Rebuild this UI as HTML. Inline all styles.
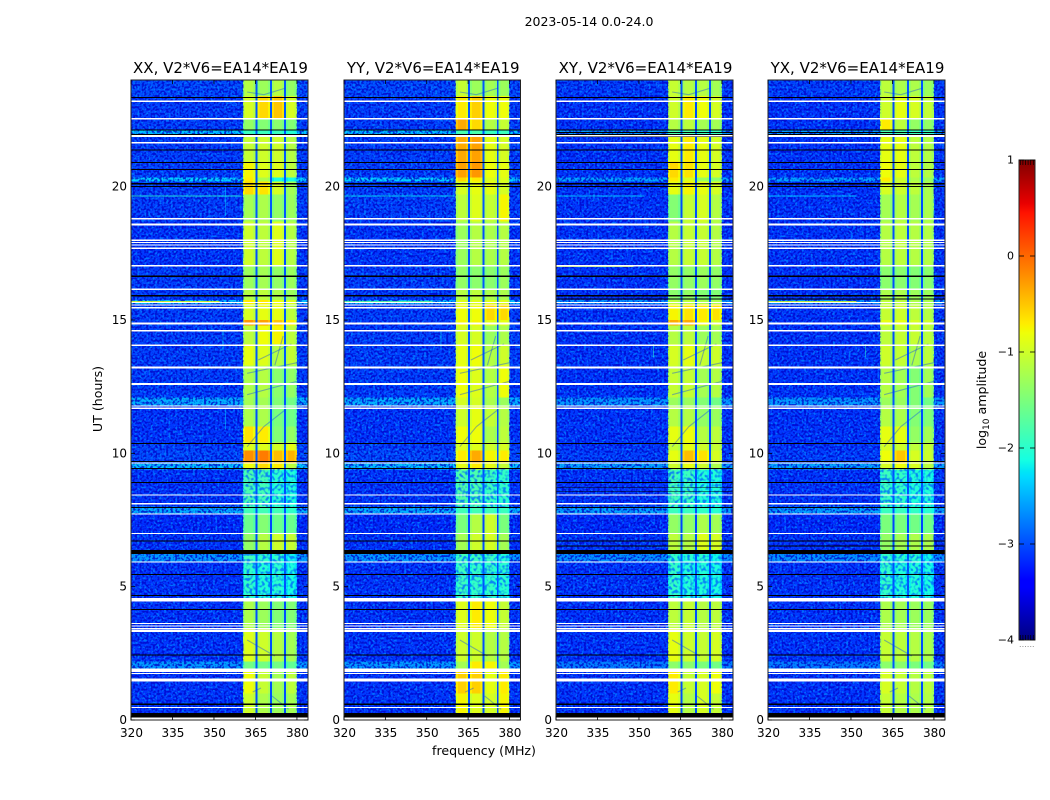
<!DOCTYPE html>
<html lang="en">
<head>
<meta charset="utf-8">
<title>2023-05-14 0.0-24.0</title>
<style>
html,body{margin:0;padding:0;background:#fff;width:1050px;height:800px;overflow:hidden}
svg{display:block}
text{font-family:"DejaVu Sans","Liberation Sans",sans-serif;fill:#000}
</style>
</head>
<body>
<svg id="chart" xmlns="http://www.w3.org/2000/svg" width="1050" height="800" viewBox="0 0 1050 800">
<defs>
<filter id="speckle-light" x="0" y="0" width="1" height="1" color-interpolation-filters="sRGB">
<feTurbulence type="fractalNoise" baseFrequency="0.45" numOctaves="1" seed="4"/>
<feColorMatrix type="matrix" values="0 0 0 0 0  0 0 0 0 0.5  0 0 0 0 1  8 0 0 0 -4.2"/>
</filter>
<filter id="speckle-dark" x="0" y="0" width="1" height="1" color-interpolation-filters="sRGB">
<feTurbulence type="fractalNoise" baseFrequency="0.45" numOctaves="1" seed="11"/>
<feColorMatrix type="matrix" values="0 0 0 0 0  0 0 0 0 0  0 0 0 0 0.78  7 0 0 0 -3.3"/>
</filter>
<filter id="speckle-noisy" x="0" y="0" width="1" height="1" color-interpolation-filters="sRGB">
<feTurbulence type="fractalNoise" baseFrequency="0.32" numOctaves="1" seed="21"/>
<feColorMatrix type="matrix" values="0 0 0 0 0  0 0 0 0 0.42  0 0 0 0 1  5 0 0 0 -2.3"/>
</filter>
<linearGradient id="colorbar-gradient" x1="0" y1="1" x2="0" y2="0"></linearGradient>
</defs>
<text x="589" y="26" font-size="12.5" text-anchor="middle">2023-05-14 0.0-24.0</text>
<text x="484" y="755" font-size="12.6" text-anchor="middle">frequency (MHz)</text>
<text transform="translate(102 399) rotate(-90)" font-size="12.6" text-anchor="middle">UT (hours)</text>
<text transform="translate(986 400) rotate(-90)" font-size="12.6" text-anchor="middle">log<tspan font-size="9" dy="3">10</tspan><tspan dy="-3"> amplitude</tspan></text>
</svg>
<script>
/* ---- data: time bands, frequency windows, log10 amplitudes ---- */
const panelNames = ["XX", "YY", "XY", "YX"];
const baselineLabel = "V2*V6=EA14*EA19";
const freqTicks = [320, 335, 350, 365, 380];
const hourTicks = [0, 5, 10, 15, 20];
const colorTicks = [1, 0, -1, -2, -3, -4];
/* band edges in hours, top to bottom */
const bandEdges = [24,23.4,22.55,22.1,21.9,20.95,20.35,20.2,19.7,18.7,17,16.15,15.75,15.6,15,14.8,14.1,13.3,12.1,11.8,11,10.4,10.1,9.65,9.4,8,7.75,7,6.3,5.95,4.5,3.4,2.2,1.9,1,0.3,0];
/* frequency edges in MHz: background, 4 windows (edge, centre, edge) with gaps, background */
const freqEdges = [320,360.5,361.3,364.2,365,365.7,366.5,369.5,370.3,370.9,371.7,374.6,375.4,376,376.8,379.2,380,384];
/* which level each frequency column uses: 0 = background, 1-4 = window, 5 = gap */
const columnLevel = [0,1,1,1,5,2,2,2,5,3,3,3,5,4,4,4,0];
/* 1 marks the roll-off columns at the edge of a window */
const columnEdge = [0,1,0,1,0,1,0,1,0,1,0,1,0,1,0,1,0];
const edgeDrop = 0.14;
const gapLevel = -2.95;
/* each row: background, window 1, window 2, window 3, window 4 */
const valuesXX = [
[-3.0,-1.15,-1.3,-1.15,-1.35],[-3.05,-0.95,-0.6,-0.5,-0.95],[-3.05,-1.35,-1.45,-1.4,-1.45],[-2.4,-1.9,-1.9,-1.9,-2.0],
[-3.05,-1.05,-1.0,-1.0,-1.15],[-3.05,-0.75,-0.9,-0.9,-1.1],[-2.35,-0.7,-1.2,-2.1,-2.1],[-3.05,-0.6,-0.65,-0.95,-1.25],
[-3.05,-1.25,-1.2,-1.35,-1.3],[-3.1,-1.0,-1.1,-0.9,-1.15],[-3.05,-1.3,-1.25,-1.35,-1.3],[-3.05,-1.15,-1.1,-1.2,-1.3],
[-2.45,-0.7,-0.7,-0.8,-0.9],[-3.05,-0.95,-0.85,-0.85,-1.1],[-3.05,-0.25,-0.3,-0.5,-0.7],[-3.05,-1.1,-0.8,-0.75,-1.1],
[-3.05,-0.85,-0.9,-1.15,-1.05],[-3.05,-1.2,-1.15,-1.4,-1.35],[-2.5,-1.25,-1.25,-1.45,-1.55],[-3.1,-1.2,-1.2,-1.5,-1.55],
[-3.1,-0.65,-0.7,-1.45,-1.35],[-3.05,-0.9,-0.9,-0.95,-0.85],[-3.0,-0.2,-0.1,-0.45,-0.4],[-2.4,-0.8,-0.6,-0.7,-1.1],
[-3.1,-1.8,-1.85,-2,-2.05],[-2.5,-1.85,-1.85,-1.85,-1.95],[-3.15,-1.6,-1.45,-1.6,-1.6],[-3.1,-1.35,-1.15,-1.0,-1.05],
[-2.6,-1.85,-1.95,-1.95,-2.15],[-3.1,-1.95,-2.05,-2,-2.1],[-3.1,-1.2,-1.3,-1.45,-1.45],[-3.1,-0.9,-1.0,-1.15,-1.25],
[-2.6,-1.55,-1.55,-1.55,-1.65],[-3.1,-0.8,-1.05,-1.25,-1.1],[-3.1,-1.0,-1.2,-1.3,-1.25],[-3.1,-0.95,-1.15,-1.25,-1.25]
];
const valuesYY = [
[-3.0,-1.05,-1.3,-1.25,-1.3],[-3.05,-0.7,-0.55,-0.8,-0.8],[-3.05,-0.35,-0.6,-1.15,-1.05],[-2.4,-1.8,-1.8,-1.9,-1.9],
[-3.05,-0.35,-0.3,-0.85,-0.95],[-3.05,-0.3,-0.25,-0.8,-0.85],[-2.35,-0.6,-0.7,-0.9,-0.9],[-3.05,-0.95,-0.85,-0.85,-0.95],
[-3.05,-1.1,-0.9,-1.05,-0.75],[-3.1,-1.3,-1.15,-1.2,-1.15],[-3.05,-1.35,-1.4,-1.4,-1.3],[-3.05,-1.15,-1.1,-1.2,-1.2],
[-2.45,-0.9,-0.9,-0.9,-0.9],[-3.05,-0.8,-0.8,-0.6,-0.6],[-3.05,-0.75,-0.75,-0.85,-0.85],[-3.05,-0.95,-0.95,-1.3,-1.2],
[-3.05,-0.85,-0.8,-1.15,-1.0],[-3.05,-0.8,-0.9,-1.15,-0.8],[-2.5,-0.95,-0.95,-1.2,-1.3],[-3.1,-1.0,-0.85,-1.05,-1.15],
[-3.1,-0.8,-0.8,-1.2,-1.1],[-3.05,-0.9,-0.9,-1.0,-0.95],[-3.0,-0.7,-0.35,-0.75,-0.7],[-2.4,-0.85,-0.7,-0.85,-1.05],
[-3.1,-1.75,-1.8,-1.9,-1.95],[-2.5,-1.85,-1.85,-1.85,-1.9],[-3.15,-1.5,-1.15,-1.0,-1.5],[-3.1,-1.25,-1.0,-0.95,-1.25],
[-2.6,-1.85,-1.9,-1.9,-2.05],[-3.1,-1.9,-1.95,-1.95,-2.0],[-3.1,-0.9,-0.7,-0.8,-1.05],[-3.1,-1.0,-1.0,-1.15,-1.15],
[-2.6,-1.25,-0.7,-0.75,-1.25],[-3.1,-0.55,-0.55,-0.85,-0.7],[-3.1,-0.75,-0.9,-0.95,-0.75],[-3.1,-0.75,-0.9,-0.95,-0.75]
];
const valuesXY = [
[-3.05,-1.05,-1.15,-1.15,-1.25],[-3.1,-1.0,-0.7,-0.8,-0.95],[-3.1,-1.15,-1.1,-1.25,-1.25],[-2.6,-1.8,-1.8,-1.9,-1.9],
[-3.1,-0.85,-0.7,-0.85,-0.95],[-3.1,-0.6,-0.65,-0.85,-0.95],[-2.55,-0.7,-0.9,-1.3,-1.4],[-3.1,-0.85,-0.75,-0.85,-0.95],
[-3.1,-1.45,-1.05,-0.95,-1.15],[-3.1,-1.15,-1.05,-1.05,-1.15],[-3.1,-1.35,-1.35,-1.3,-1.35],[-3.1,-1.4,-1.35,-1.45,-1.45],
[-2.65,-1.1,-1.1,-1.2,-1.2],[-3.1,-0.75,-0.65,-0.7,-0.65],[-3.1,-0.35,-0.35,-0.75,-0.95],[-3.1,-1.15,-1.1,-1.3,-1.25],
[-3.1,-0.95,-0.85,-1.05,-1.0],[-3.1,-1.05,-1.05,-1.25,-1.15],[-2.6,-1.3,-1.3,-1.45,-1.55],[-3.1,-1.15,-1.15,-1.35,-1.3],
[-3.1,-0.85,-0.8,-1.15,-1.1],[-3.1,-1.05,-0.85,-1.0,-1.05],[-3.05,-0.85,-0.45,-0.65,-0.95],[-2.55,-1.0,-0.85,-1.0,-1.2],
[-3.1,-1.85,-1.9,-2.05,-2.05],[-2.55,-1.9,-1.9,-1.95,-2.0],[-3.15,-1.35,-1.35,-1.2,-1.25],[-3.1,-1.1,-1.15,-0.9,-0.95],
[-2.65,-1.95,-2.0,-2.0,-2.15],[-3.1,-1.95,-2.05,-2.05,-2.1],[-3.1,-1.1,-1.05,-1.15,-1.1],[-3.1,-0.85,-1.0,-1.05,-0.95],
[-2.75,-1.4,-1.4,-1.5,-1.55],[-3.1,-0.7,-1.05,-0.95,-0.8],[-3.1,-0.85,-1.15,-0.95,-1.05],[-3.1,-0.85,-1.15,-0.95,-1.05]
];
const valuesYX = [
[-3.05,-1.1,-1.2,-1.2,-1.3],[-3.1,-1.0,-0.85,-0.95,-1.05],[-3.1,-0.7,-1.1,-1.35,-1.35],[-2.6,-1.8,-1.8,-1.9,-1.9],
[-3.1,-0.85,-0.85,-1.1,-1.15],[-3.1,-0.8,-0.85,-1.1,-1.15],[-2.55,-0.7,-1.0,-1.2,-1.3],[-3.1,-0.95,-1.0,-1.1,-1.2],
[-3.1,-1.25,-1.15,-1.25,-1.2],[-3.1,-1.15,-1.1,-1.15,-1.15],[-3.1,-1.4,-1.4,-1.45,-1.4],[-3.1,-1.2,-1.2,-1.3,-1.3],
[-2.65,-1.1,-1.1,-1.2,-1.2],[-3.1,-1.05,-1.0,-1.1,-1.15],[-3.1,-0.85,-0.85,-0.95,-1.0],[-3.1,-1.1,-1.05,-1.05,-1.1],
[-3.1,-1.0,-1.05,-1.2,-1.1],[-3.1,-1.15,-1.25,-1.45,-1.25],[-2.6,-1.3,-1.3,-1.45,-1.55],[-3.1,-1.15,-1.2,-1.45,-1.45],
[-3.1,-0.85,-0.85,-1.35,-1.25],[-3.1,-0.95,-1.0,-1.1,-1.05],[-3.05,-0.8,-0.5,-0.95,-1.0],[-2.55,-0.95,-0.8,-0.95,-1.1],
[-3.1,-1.9,-1.95,-2.05,-2.05],[-2.55,-1.9,-1.9,-1.95,-2.0],[-3.15,-1.5,-1.5,-1.55,-1.55],[-3.1,-1.35,-1.25,-1.2,-1.2],
[-2.65,-1.95,-2.0,-2.0,-2.15],[-3.1,-1.95,-2.05,-2.05,-2.1],[-3.1,-1.2,-1.25,-1.3,-1.3],[-3.1,-1.05,-1.1,-1.15,-1.2],
[-2.75,-1.4,-1.4,-1.5,-1.55],[-3.1,-0.95,-1.05,-1.15,-1.1],[-3.1,-1.05,-1.15,-1.2,-1.15],[-3.1,-1.05,-1.15,-1.2,-1.15]
];
const panelValues = [valuesXX, valuesYY, valuesXY, valuesYX];
/* flagged (white) and zero-amplitude (black) time ranges, in hours: [top, bottom] */
const whiteFlags = [[23.23,23.17],[22.58,22.52],[21.93,21.87],[21.68,21.62],[18.83,18.77],[18.61,18.55],[18.01,17.96],[17.92,17.88],[17.84,17.8],[17.71,17.67],[17.06,17.01],[16.18,16.12],[15.67,15.63],[15.59,15.55],[15.49,15.44],[14.9,14.84],[14.63,14.57],[14.08,14.02],[13.25,13.19],[12.63,12.57],[11.8,11.76],[11.71,11.66],[9.65,9.61],[8.46,8.41],[8.14,8.09],[7.74,7.7],[7.02,6.97],[5.95,5.91],[4.58,4.44],[3.64,3.6],[3.55,3.51],[3.45,3.4],[3.38,3.3],[1.93,1.8],[1.77,1.73],[1.55,1.45],[0.49,0.45],[0.1,0]];
const blackFlags = [[23.36,23.32],[22.15,22.11],[21.97,21.94],[21.39,21.35],[20.92,20.88],[20.67,20.63],[20.13,20.09],[20.02,19.98],[16.67,16.62],[15.93,15.89],[10.39,10.35],[9.71,9.67],[9.45,9.41],[8.92,8.88],[7.99,7.95],[6.74,6.7],[6.37,6.22],[5.48,5.44],[4.69,4.65],[4.16,4.12],[2.45,2.41],[0.61,0.57],[0.26,0.1]];
const extraBlackXY = [[22.05,22.01],[21.89,21.86],[15.81,15.77],[8.74,8.71],[8.59,8.56],[6.54,6.51]];
const extraBlackYX = [[22.05,22.01],[15.81,15.77],[6.54,6.51]];
const extraBlack = [[], [], extraBlackXY, extraBlackYX];
/* time ranges with weak, noisy signal in the windows */
const noisyBands = [[9.4,8.0],[6.3,4.5]];
/* narrow interference: [panel, hour, log amplitude, start MHz, end MHz] */
const rfiLines = [[0,19.67,-2.0,320,360],[1,19.67,-2.2,320,360],[2,19.67,-2.3,320,352],[3,19.67,-2.3,320,352],[0,15.72,-0.8,320,352],[1,15.72,-1.6,320,352],[3,15.72,-0.9,320,352],[2,17.03,-1.0,320,348]];
/* vertical interference: [panel, MHz, start hour, end hour, log amplitude] */
const rfiSpurs = [[0,354,18.9,20.0,-2.4],[0,354,10.9,11.7,-2.4],[0,353,13.9,14.6,-2.2],[1,355,13.9,14.6,-2.2],[2,355,13.6,14.1,-2.0],[3,355,13.6,14.1,-2.0]];
/* dark diagonal streaks across the windows: [MHz, hour, MHz, hour] */
const streaks = [[362,10.25,368,11.0],[368,11.0,376,11.65],[362,13.0,380,13.4],[362,12.2,380,12.7],[366,13.5,378,14.1],[372,13.3,375,14.4],[362,3.0,372,2.4],[371,0.9,377,0.4],[362,23.55,368,23.45],[368,23.45,376,23.7],[367,1.2,364,1.05]];

/* ---- axes and helpers ---- */
const panelX = [[131,308],[344,520.5],[556,733],[768,945]];
const plotTop = 80, plotBottom = 720;
const freqMin = 320, freqMax = 384, hourMin = 0, hourMax = 24;
const svg = document.getElementById('chart');
const NS = 'http://www.w3.org/2000/svg';
function el(tag, attrs, parent){
  const n = document.createElementNS(NS, tag);
  for (const k in attrs) n.setAttribute(k, attrs[k]);
  (parent || svg).appendChild(n);
  return n;
}
function xScale(p, f){ const a = panelX[p]; return a[0] + (f - freqMin) / (freqMax - freqMin) * (a[1] - a[0]); }
function yScale(h){ return plotBottom - (h - hourMin) / (hourMax - hourMin) * (plotBottom - plotTop); }
function seg(t, pts){
  for (let i = 1; i < pts.length; i++) if (t <= pts[i][0]) {
    const a = pts[i-1], b = pts[i];
    return a[1] + (t - a[0]) / (b[0] - a[0]) * (b[1] - a[1]);
  }
  return pts[pts.length-1][1];
}
const jetR = [[0,0],[0.35,0],[0.66,1],[0.89,1],[1,0.5]];
const jetG = [[0,0],[0.125,0],[0.375,1],[0.64,1],[0.91,0],[1,0]];
const jetB = [[0,0.5],[0.11,1],[0.34,1],[0.65,0],[1,0]];
function jet(t){
  t = Math.max(0, Math.min(1, t));
  return 'rgb(' + Math.round(seg(t,jetR)*255) + ',' + Math.round(seg(t,jetG)*255) + ',' + Math.round(seg(t,jetB)*255) + ')';
}
function colorOf(v){ return jet((v + 4) / 5); }

/* ---- panels ---- */
panelNames.forEach(function(name, p){
  const g = el('g', {});
  
  
  const clipId = 'clip-' + p;
  const cp = el('clipPath', {id: clipId}, g);
  el('rect', {x: panelX[p][0], y: plotTop, width: panelX[p][1]-panelX[p][0], height: plotBottom-plotTop}, cp);
  const hm = el('g', {'clip-path': 'url(#' + clipId + ')', 'shape-rendering': 'crispEdges'}, g);
  
  

  /* cells */
  panelValues[p].forEach(function(row, r){
    const y0 = yScale(bandEdges[r]), y1 = yScale(bandEdges[r+1]);
    columnLevel.forEach(function(lv, c){
      const x0 = xScale(p, freqEdges[c]), x1 = xScale(p, freqEdges[c+1]);
      const v = lv === 5 ? Math.min(gapLevel, row[0] + 0.1) : row[lv] - columnEdge[c] * edgeDrop;
      const cell = el('rect', {x: x0, y: y0, width: x1-x0+0.5, height: y1-y0+0.5, fill: colorOf(v)}, hm);
      
      
    });
  });

  /* streaks */
  streaks.forEach(function(s){
    const l = el('line', {x1: xScale(p,s[0]), y1: yScale(s[1]), x2: xScale(p,s[2]), y2: yScale(s[3]), stroke: 'rgb(0,60,255)', 'stroke-width': 1.1, 'stroke-opacity': 0.4, 'shape-rendering': 'auto'}, hm);
    
    
  });

  /* background speckle (visual texture only) */
  const speckleZones = [[freqEdges[0], freqEdges[1], hourMax, hourMin], [freqEdges[16], freqEdges[17], hourMax, hourMin]];
  speckleZones.forEach(function(z){
    ['speckle-light','speckle-dark'].forEach(function(f){
      const s = el('rect', {x: xScale(p,z[0]), y: yScale(z[2]), width: xScale(p,z[1])-xScale(p,z[0]), height: yScale(z[3])-yScale(z[2]), filter: 'url(#' + f + ')', opacity: f === 'speckle-light' ? 0.8 : 0.75}, hm);
      
      
    });
  });
  noisyBands.forEach(function(b){
    const s = el('rect', {x: xScale(p,freqEdges[1]), y: yScale(b[0]), width: xScale(p,freqEdges[16])-xScale(p,freqEdges[1]), height: yScale(b[1])-yScale(b[0]), filter: 'url(#speckle-noisy)', opacity: 0.8}, hm);
    
    
  });

  /* interference */
  rfiLines.filter(function(l){ return l[0] === p; }).forEach(function(l){
    const m = el('rect', {x: xScale(p,l[3]), y: yScale(l[1]), width: xScale(p,l[4])-xScale(p,l[3]), height: 1, fill: colorOf(l[2]), opacity: 0.8}, hm);
    
    
  });
  rfiSpurs.filter(function(l){ return l[0] === p; }).forEach(function(l){
    const m = el('rect', {x: xScale(p,l[1]), y: yScale(l[3]), width: 1, height: yScale(l[2])-yScale(l[3]), fill: colorOf(l[4]), opacity: 0.5}, hm);
    
    
  });

  /* flags */
  whiteFlags.forEach(function(f){
    const m = el('rect', {x: panelX[p][0], y: yScale(f[0]), width: panelX[p][1]-panelX[p][0], height: yScale(f[1])-yScale(f[0]), fill: '#fff'}, hm);
    
    
  });
  blackFlags.concat(extraBlack[p]).forEach(function(f){
    const m = el('rect', {x: panelX[p][0], y: yScale(f[0]), width: panelX[p][1]-panelX[p][0], height: yScale(f[1])-yScale(f[0]), fill: '#000'}, hm);
    
    
  });

  /* frame */
  const frame = el('rect', {x: panelX[p][0], y: plotTop, width: panelX[p][1]-panelX[p][0], height: plotBottom-plotTop, fill: 'none', stroke: '#222', 'stroke-width': 1}, g);
  
  

  /* x ticks */
  freqTicks.forEach(function(f){
    const x = xScale(p, f);
    const t1 = el('line', {x1: x, y1: plotBottom, x2: x, y2: plotBottom-4, stroke: '#000', 'stroke-width': 0.8}, g);
    
    
    const t2 = el('line', {x1: x, y1: plotTop, x2: x, y2: plotTop+4, stroke: '#000', 'stroke-width': 0.8}, g);
    
    
    const lab = el('text', {x: x+0.5, y: 737, 'font-size': 12, 'text-anchor': 'middle'}, g);
    lab.textContent = f;
    
    
  });

  /* y ticks */
  hourTicks.forEach(function(h){
    const y = yScale(h);
    const t1 = el('line', {x1: panelX[p][0], y1: y, x2: panelX[p][0]+4, y2: y, stroke: '#000', 'stroke-width': 0.8}, g);
    
    
    const t2 = el('line', {x1: panelX[p][1], y1: y, x2: panelX[p][1]-4, y2: y, stroke: '#000', 'stroke-width': 0.8}, g);
    
    
    const lab = el('text', {x: panelX[p][0]-4, y: y+4, 'font-size': 12, 'text-anchor': 'end'}, g);
    lab.textContent = h;
    
    
  });

  /* title */
  const title = el('text', {x: (panelX[p][0]+panelX[p][1])/2 + 1, y: 73, 'font-size': 15, 'text-anchor': 'middle'}, g);
  title.textContent = name + ', ' + baselineLabel;
  
  
});

/* ---- colorbar ---- */
const cbX0 = 1019, cbX1 = 1035, cbTop = 160, cbBottom = 640, cbMin = -4, cbMax = 1;
function cbY(v){ return cbBottom - (v - cbMin) / (cbMax - cbMin) * (cbBottom - cbTop); }
const grad = document.getElementById('colorbar-gradient');
[0,0.11,0.125,0.34,0.35,0.375,0.64,0.65,0.66,0.89,0.91,1].forEach(function(t){
  el('stop', {offset: t, 'stop-color': jet(t)}, grad);
});
const cbG = el('g', {});


const cbRect = el('rect', {x: cbX0, y: cbTop, width: cbX1-cbX0, height: cbBottom-cbTop, fill: 'url(#colorbar-gradient)', stroke: '#222', 'stroke-width': 1}, cbG);


colorTicks.forEach(function(v){
  const y = cbY(v);
  const a = el('line', {x1: cbX0, y1: y, x2: cbX0+5, y2: y, stroke: '#000', 'stroke-width': 0.8}, cbG);
  
  
  const b = el('line', {x1: cbX1, y1: y, x2: cbX1-5, y2: y, stroke: '#000', 'stroke-width': 0.8}, cbG);
  
  
  const lab = el('text', {x: cbX0-5, y: y+3.5, 'font-size': 11, 'text-anchor': 'end'}, cbG);
  lab.textContent = String(v).replace('-', '\u2212');
  
  
});
for (let i = 0; i < 6; i++) {
  const x = cbX0 + 2.6 * (i + 0.5);
  const top = el('line', {x1: x, y1: cbTop, x2: x, y2: cbTop+5, stroke: '#000', 'stroke-width': 0.7}, cbG);
  
  
  const bottom = el('line', {x1: x, y1: cbBottom, x2: x, y2: cbBottom-5, stroke: '#000', 'stroke-width': 0.7}, cbG);
  
  
  const dot = el('rect', {x: x-0.5, y: 646, width: 1, height: 1, fill: '#999'}, cbG);
  
  
}
</script>
</body>
</html>
